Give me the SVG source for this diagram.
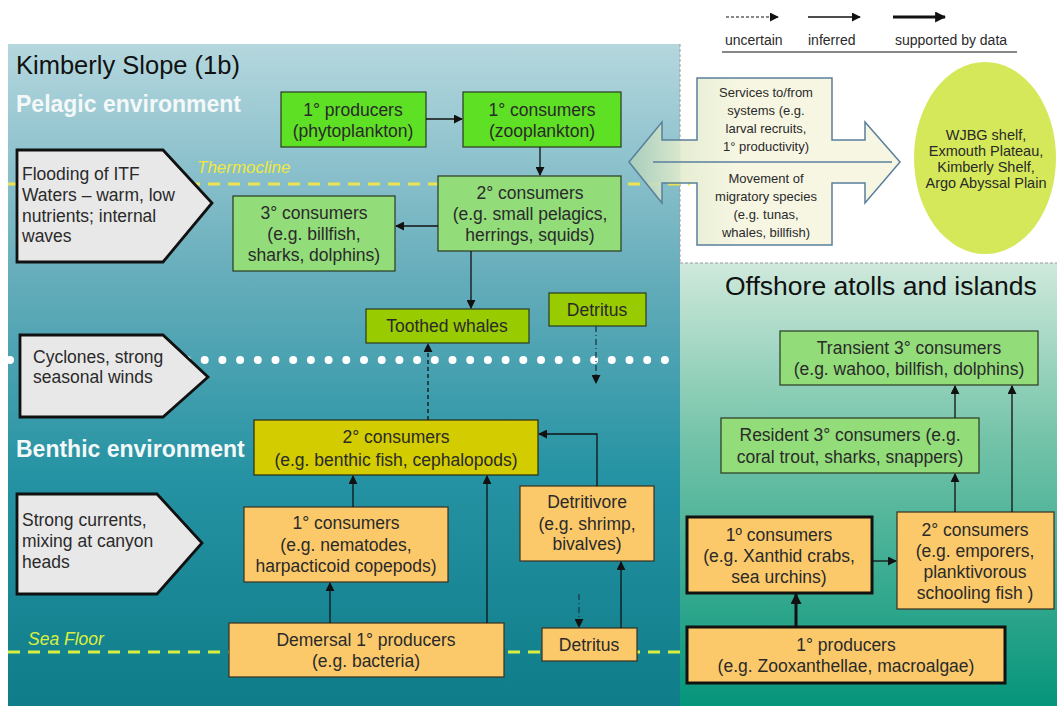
<svg xmlns="http://www.w3.org/2000/svg" width="1057" height="706" viewBox="0 0 1057 706">
<defs>
<linearGradient id="gLeft" x1="0" y1="0" x2="0" y2="1">
<stop offset="0" stop-color="#b5d7de"/>
<stop offset="0.35" stop-color="#66adbb"/>
<stop offset="0.65" stop-color="#2593a3"/>
<stop offset="1" stop-color="#0f7c89"/>
</linearGradient>
<linearGradient id="gRight" x1="0" y1="0" x2="0" y2="1">
<stop offset="0" stop-color="#cfe9dc"/>
<stop offset="0.4" stop-color="#73c3a8"/>
<stop offset="1" stop-color="#05957b"/>
</linearGradient>
<linearGradient id="gArrow" x1="0" y1="0" x2="1" y2="0">
<stop offset="0" stop-color="#a9cfb9"/>
<stop offset="0.2" stop-color="#e4eccf"/>
<stop offset="0.4" stop-color="#f5f5df"/>
<stop offset="1" stop-color="#f5f5df"/>
</linearGradient>
<marker id="ah" viewBox="0 0 10 10" refX="9" refY="5" markerWidth="9" markerHeight="9" markerUnits="userSpaceOnUse" orient="auto">
<path d="M0,0 L10,5 L0,10 z" fill="#111"/>
</marker>
<marker id="ahb" viewBox="0 0 10 10" refX="9" refY="5" markerWidth="11" markerHeight="11" markerUnits="userSpaceOnUse" orient="auto">
<path d="M0,0 L10,5 L0,10 z" fill="#111"/>
</marker>
<style>
.t{font-family:"Liberation Sans",Arial,sans-serif;fill:#2a2a2a;}
.c{text-anchor:middle;font-size:17.5px;}
.g1{fill:#5ee024;stroke:#2a3a20;stroke-width:1.2;}
.g2{fill:#92dc7a;stroke:#2a3a20;stroke-width:1.2;}
.g3{fill:#99cc00;stroke:#2a3a20;stroke-width:1.2;}
.y1{fill:#d2cc00;stroke:#2a2a10;stroke-width:1.2;}
.o1{fill:#fbc96a;stroke:#3a3020;stroke-width:1.2;}
.o2{fill:#fbc96a;stroke:#111;stroke-width:3;}
.pent{fill:#e8e8e8;stroke:#111;stroke-width:2.8;}
.ln{stroke:#111;stroke-width:1.3;fill:none;marker-end:url(#ah);}
.dash{stroke:#111;stroke-width:1.3;fill:none;stroke-dasharray:4 3;marker-end:url(#ah);}
.dd{stroke:#1a3a4a;stroke-width:1.3;fill:none;stroke-dasharray:6 3 1 3;marker-end:url(#ah);}
.thick{stroke:#111;stroke-width:3;fill:none;marker-end:url(#ahb);}
</style>
</defs>

<rect x="0" y="0" width="1057" height="706" fill="#ffffff"/>

<g id="panels">
<rect x="8" y="44" width="672" height="662" fill="url(#gLeft)"/>
<rect x="680" y="263" width="377" height="443" fill="url(#gRight)"/>
<line x1="680" y1="44" x2="680" y2="263" stroke="#999" stroke-width="1" stroke-dasharray="3 2"/>
<line x1="680" y1="263" x2="1057" y2="263" stroke="#999" stroke-width="1" stroke-dasharray="3 2"/>
</g>

<g id="legend">
<line x1="726" y1="17" x2="778" y2="17" stroke="#111" stroke-width="1.2" stroke-dasharray="3 2" marker-end="url(#ah)"/>
<line x1="808" y1="17" x2="860" y2="17" stroke="#111" stroke-width="1.3" marker-end="url(#ah)"/>
<line x1="893" y1="17" x2="945" y2="17" stroke="#111" stroke-width="3" marker-end="url(#ahb)"/>
<text class="t" x="725" y="45" font-size="14">uncertain</text>
<text class="t" x="808" y="45" font-size="14">inferred</text>
<text class="t" x="895" y="45" font-size="14">supported by data</text>
<line x1="722" y1="52" x2="1017" y2="52" stroke="#111" stroke-width="1.2"/>
</g>

<g id="labels">
<text class="t" x="16" y="74" font-size="25.5" style="fill:#111">Kimberly Slope (1b)</text>
<text class="t" x="16" y="112" font-size="23" font-weight="bold" style="fill:#f4f8f8">Pelagic environment</text>
<text class="t" x="16" y="457" font-size="23" font-weight="bold" style="fill:#f4f8f8">Benthic environment</text>
<text class="t" x="725" y="295" font-size="26.5" style="fill:#111">Offshore atolls and islands</text>
<text class="t" x="197" y="173" font-size="17" font-style="italic" style="fill:#f0e840">Thermocline</text>
<text class="t" x="28" y="645" font-size="17.5" font-style="italic" style="fill:#d8f040">Sea Floor</text>
</g>

<g id="boundaries">
<line x1="8" y1="184" x2="690" y2="184" stroke="#ece450" stroke-width="3" stroke-dasharray="12 8"/>
<line x1="8" y1="652" x2="680" y2="652" stroke="#d8f040" stroke-width="3" stroke-dasharray="12 8"/>
<line x1="10" y1="360" x2="665" y2="360" stroke="#ffffff" stroke-width="8" stroke-linecap="round" stroke-dasharray="0 17.7"/>
</g>

<g id="exchange-arrow">
<path d="M629,162 L662,122 L662,140 L697,140 L697,78 L832,78 L832,140 L865,140 L865,122 L900,162 L865,203 L865,183 L832,183 L832,245 L697,245 L697,183 L662,183 L662,203 Z" fill="url(#gArrow)" fill-opacity="0.9" stroke="#5a7f9c" stroke-width="1.5"/>
<line x1="653" y1="162" x2="892" y2="162" stroke="#5a7f9c" stroke-width="1.5"/>
<text class="t" text-anchor="middle" font-size="13"><tspan x="766" y="97">Services to/from</tspan><tspan x="766" y="115">systems (e.g.</tspan><tspan x="766" y="133">larval recruits,</tspan><tspan x="766" y="151">1° productivity)</tspan><tspan x="766" y="183">Movement of</tspan><tspan x="766" y="201">migratory species</tspan><tspan x="766" y="219">(e.g. tunas,</tspan><tspan x="766" y="237">whales, billfish)</tspan></text>
</g>

<g id="shelf-systems">
<ellipse cx="985" cy="158" rx="71" ry="96" fill="#d4e85a"/>
<text class="t" text-anchor="middle" font-size="14.5"><tspan x="986" y="140">WJBG shelf,</tspan><tspan x="986" y="156">Exmouth Plateau,</tspan><tspan x="986" y="172">Kimberly Shelf,</tspan><tspan x="986" y="188">Argo Abyssal Plain</tspan></text>
</g>

<g id="flooding">
<path class="pent" d="M17,150 L163,150 L212,203 L163,262 L17,262 Z"/>
<text class="t" font-size="17.5"><tspan x="22" y="180">Flooding of ITF</tspan><tspan x="22" y="201">Waters – warm, low</tspan><tspan x="22" y="222">nutrients; internal</tspan><tspan x="22" y="242">waves</tspan></text>
</g>
<g id="cyclones">
<path class="pent" d="M20,335 L163,335 L208,377 L163,417 L20,417 Z"/>
<text class="t" font-size="17.5"><tspan x="33" y="363">Cyclones, strong</tspan><tspan x="33" y="383">seasonal winds</tspan></text>
</g>
<g id="currents">
<path class="pent" d="M17,494 L157,494 L202,543 L157,594 L17,594 Z"/>
<text class="t" font-size="17.5"><tspan x="22" y="526">Strong currents,</tspan><tspan x="22" y="547">mixing at canyon</tspan><tspan x="22" y="568">heads</tspan></text>
</g>

<g id="phytoplankton">
<rect class="g1" x="281" y="92" width="145" height="55"/>
<text class="t c"><tspan x="353" y="116">1° producers</tspan><tspan x="353" y="137">(phytoplankton)</tspan></text>
</g>
<g id="zooplankton">
<rect class="g1" x="463" y="92" width="158" height="55"/>
<text class="t c"><tspan x="542" y="116">1° consumers</tspan><tspan x="542" y="137">(zooplankton)</tspan></text>
</g>
<g id="pelagic-2">
<rect class="g2" x="438" y="176" width="183" height="75"/>
<text class="t c"><tspan x="530" y="199">2° consumers</tspan><tspan x="530" y="220">(e.g. small pelagics,</tspan><tspan x="530" y="241">herrings, squids)</tspan></text>
</g>
<g id="pelagic-3">
<rect class="g2" x="233" y="196" width="162" height="75"/>
<text class="t c"><tspan x="314" y="219">3° consumers</tspan><tspan x="314" y="240">(e.g. billfish,</tspan><tspan x="314" y="261">sharks, dolphins)</tspan></text>
</g>
<g id="toothed-whales">
<rect class="g3" x="366" y="309" width="163" height="34"/>
<text class="t c" x="447" y="332">Toothed whales</text>
</g>
<g id="detritus-pelagic">
<rect class="g3" x="549" y="293" width="97" height="33"/>
<text class="t c" x="597" y="316">Detritus</text>
</g>
<g id="benthic-2">
<rect class="y1" x="254" y="420" width="284" height="55"/>
<text class="t c"><tspan x="396" y="443">2° consumers</tspan><tspan x="396" y="466">(e.g. benthic fish, cephalopods)</tspan></text>
</g>
<g id="benthic-1">
<rect class="o1" x="244" y="507" width="204" height="75"/>
<text class="t c"><tspan x="346" y="529">1° consumers</tspan><tspan x="346" y="551">(e.g. nematodes,</tspan><tspan x="346" y="572">harpacticoid copepods)</tspan></text>
</g>
<g id="demersal-producers">
<rect class="o1" x="229" y="623" width="275" height="54"/>
<text class="t c"><tspan x="366" y="646">Demersal 1° producers</tspan><tspan x="366" y="667">(e.g. bacteria)</tspan></text>
</g>
<g id="detritivore">
<rect class="o1" x="520" y="486" width="134" height="75"/>
<text class="t c"><tspan x="587" y="508">Detritivore</tspan><tspan x="587" y="530">(e.g. shrimp,</tspan><tspan x="587" y="550">bivalves)</tspan></text>
</g>
<g id="detritus-benthic">
<rect class="o1" x="542" y="628" width="95" height="33"/>
<text class="t c" x="589" y="651">Detritus</text>
</g>

<g id="transient-3">
<rect class="g2" x="780" y="331" width="258" height="54"/>
<text class="t c"><tspan x="909" y="354">Transient 3° consumers</tspan><tspan x="909" y="375">(e.g. wahoo, billfish, dolphins)</tspan></text>
</g>
<g id="resident-3">
<rect class="g2" x="721" y="418" width="258" height="55"/>
<text class="t c"><tspan x="850" y="441">Resident 3° consumers (e.g.</tspan><tspan x="850" y="463">coral trout, sharks, snappers)</tspan></text>
</g>
<g id="atoll-1">
<rect class="o2" x="687" y="517" width="185" height="76"/>
<text class="t c"><tspan x="779" y="541">1º consumers</tspan><tspan x="779" y="562">(e.g. Xanthid crabs,</tspan><tspan x="779" y="583">sea urchins)</tspan></text>
</g>
<g id="atoll-2">
<rect class="o1" x="897" y="512" width="157" height="97"/>
<text class="t c"><tspan x="975" y="536">2° consumers</tspan><tspan x="975" y="557">(e.g. emporers,</tspan><tspan x="975" y="578">planktivorous</tspan><tspan x="975" y="599">schooling fish )</tspan></text>
</g>
<g id="atoll-producers">
<rect class="o2" x="687" y="627" width="318" height="56"/>
<text class="t c"><tspan x="846" y="651">1° producers</tspan><tspan x="846" y="672">(e.g. Zooxanthellae, macroalgae)</tspan></text>
</g>

<g id="connectors">
<line class="ln" x1="426" y1="119" x2="462" y2="119"/>
<line class="ln" x1="540" y1="147" x2="540" y2="175"/>
<line class="ln" x1="438" y1="226" x2="396" y2="226"/>
<line class="ln" x1="471" y1="251" x2="471" y2="308"/>
<line class="dd" x1="596" y1="326" x2="596" y2="383"/>
<line class="dash" x1="428" y1="420" x2="428" y2="344"/>
<line class="ln" x1="353" y1="507" x2="353" y2="476"/>
<line class="ln" x1="330" y1="623" x2="330" y2="583"/>
<line class="ln" x1="487" y1="623" x2="487" y2="476"/>
<polyline class="ln" points="597,486 597,434 539,434"/>
<line class="ln" x1="621" y1="628" x2="621" y2="562"/>
<line class="dd" x1="579" y1="594" x2="579" y2="627"/>
<line class="ln" x1="955" y1="418" x2="955" y2="386"/>
<line class="ln" x1="1012" y1="512" x2="1012" y2="386"/>
<line class="ln" x1="955" y1="512" x2="955" y2="474"/>
<line class="ln" x1="872" y1="561" x2="896" y2="561"/>
<line class="thick" x1="796" y1="627" x2="796" y2="594"/>
</g>
</svg>
